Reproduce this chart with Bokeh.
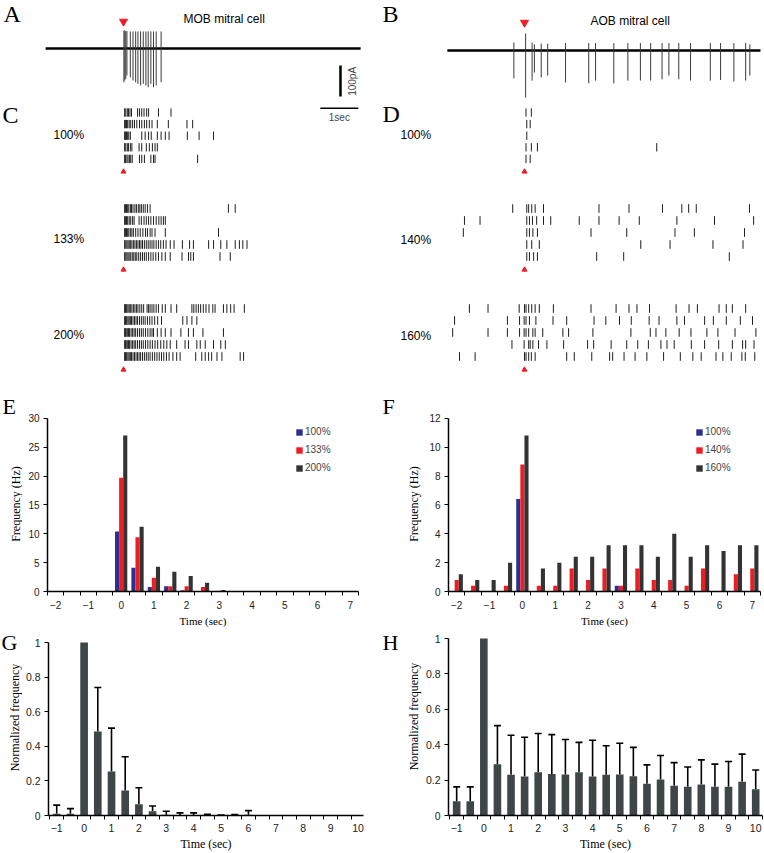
from bokeh.plotting import figure
from bokeh.layouts import column, row
from bokeh.models import (Range1d, Label, FixedTicker, Legend, LegendItem,
                          ColumnDataSource, Whisker, TeeHead, NumeralTickFormatter)
from bokeh.transform import dodge
from bokeh.embed import file_html
from bokeh.resources import INLINE

SERIF = "Liberation Serif"
SANS = "Liberation Sans"

# ---------------- A : MOB example trace (time in s, current in pA) ----------------
trace_a_span = [-2.05, 6.24]
spike_a_t = [0.01, 0.035, 0.06, 0.09, 0.18, 0.25, 0.32, 0.38, 0.45, 0.52, 0.59, 0.65, 0.72, 0.79, 0.86, 0.99]
spike_a_peak = [58, 58, 56, 56, 55, 55, 55, 55, 55, 55, 55, 55, 55, 55, 55, 55]
spike_a_trough = [-109, -103, -98, -87, -93, -103, -109, -114, -119, -114, -119, -125, -114, -125, -119, -109]

# ---------------- B : AOB example trace ----------------
trace_b_span = [-2.03, 6.21]
spike_b_t = [-0.28, 0.03, 0.20, 0.26, 0.44, 0.61, 1.08, 1.69, 1.87, 2.35, 2.72, 3.05, 3.32,
             3.62, 3.80, 4.06, 4.37, 4.89, 5.16, 5.51, 5.82, 5.93]
spike_b_peak = [26, 55, 26, 20, 22, 22, 24, 24, 24, 24, 24, 24, 24, 24, 24, 24, 24, 24, 24, 24, 24, 20]
spike_b_trough = [-90, -152, -97, -71, -87, -81, -103, -106, -97, -106, -97, -97, -97,
                  -93, -81, -93, -97, -97, -95, -100, -97, -81]

# ---------------- C : MOB rasters (spike times, s) ----------------
c_100 = [
    [0.03, 0.06, 0.10, 0.13, 0.17, 0.21, 0.37, 0.42, 0.48, 0.54, 0.61, 0.66, 0.92, 1.25],
    [0.03, 0.05, 0.08, 0.11, 0.15, 0.19, 0.24, 0.29, 0.35, 0.42, 0.48, 0.55, 0.61, 0.68, 0.75, 0.89, 1.18, 1.67, 1.82],
    [0.03, 0.05, 0.08, 0.11, 0.14, 0.18, 0.48, 0.57, 0.66, 0.73, 0.89, 0.99, 1.10, 1.20, 1.68, 1.99, 2.37],
    [0.03, 0.06, 0.10, 0.13, 0.18, 0.22, 0.41, 0.48, 0.60, 0.68, 0.76, 0.83, 0.89],
    [0.03, 0.05, 0.09, 0.12, 0.16, 0.19, 0.23, 0.42, 0.48, 0.55, 0.72, 0.79, 0.83, 1.95],
]
c_133 = [
    [0.03, 0.05, 0.08, 0.11, 0.14, 0.18, 0.21, 0.25, 0.30, 0.34, 0.39, 0.43, 0.47, 0.52, 0.57, 0.63, 0.70, 2.76, 2.94],
    [0.03, 0.05, 0.08, 0.11, 0.15, 0.19, 0.24, 0.28, 0.41, 0.47, 0.54, 0.60, 0.66, 0.72, 0.79, 0.86, 0.93, 0.99, 1.05, 1.10],
    [0.03, 0.05, 0.08, 0.11, 0.14, 0.18, 0.22, 0.26, 0.32, 0.38, 0.44, 0.51, 0.58, 0.63, 0.70, 0.75, 0.83, 1.10, 2.50],
    [0.03, 0.06, 0.09, 0.12, 0.15, 0.18, 0.22, 0.26, 0.30, 0.34, 0.38, 0.42, 0.46, 0.50, 0.55, 0.60, 0.65, 0.70,
     0.75, 0.80, 0.86, 0.92, 0.98, 1.05, 1.12, 1.23, 1.33, 1.55, 1.74, 1.84, 2.24, 2.37, 2.56, 2.72, 2.94, 3.05, 3.14, 3.25],
    [0.03, 0.06, 0.09, 0.12, 0.15, 0.19, 0.23, 0.27, 0.31, 0.35, 0.40, 0.45, 0.50, 0.55, 0.60, 0.66, 0.72, 0.78,
     0.85, 0.92, 1.01, 1.10, 1.23, 1.54, 1.71, 1.77, 1.84, 2.54, 2.81],
]
c_200 = [
    [0.03, 0.05, 0.07, 0.09, 0.12, 0.15, 0.18, 0.22, 0.26, 0.30, 0.34, 0.38, 0.43, 0.48, 0.53, 0.62, 0.66, 0.70,
     0.75, 0.80, 0.86, 0.92, 1.02, 1.10, 1.25, 1.40, 1.80, 1.85, 1.91, 1.97, 2.03, 2.10, 2.17, 2.25, 2.35, 2.41,
     2.63, 2.72, 2.82, 2.91, 3.18],
    [0.03, 0.05, 0.07, 0.09, 0.12, 0.15, 0.18, 0.21, 0.25, 0.29, 0.33, 0.37, 0.42, 0.47, 0.52, 0.57, 0.63, 0.69,
     0.75, 0.82, 0.90, 1.00, 1.56, 1.67, 1.80, 1.93],
    [0.03, 0.05, 0.07, 0.10, 0.13, 0.16, 0.20, 0.24, 0.28, 0.32, 0.37, 0.42, 0.47, 0.52, 0.58, 0.64, 0.70, 0.75,
     0.79, 0.89, 0.99, 1.10, 1.25, 1.51, 1.71, 1.84, 2.09, 2.63],
    [0.03, 0.05, 0.07, 0.10, 0.13, 0.16, 0.20, 0.24, 0.28, 0.32, 0.37, 0.42, 0.47, 0.52, 0.58, 0.64, 0.70, 0.76,
     0.83, 0.90, 0.98, 1.06, 1.14, 1.23, 1.40, 1.62, 1.71, 1.93, 2.02, 2.15, 2.37, 2.56, 2.68],
    [0.03, 0.05, 0.07, 0.09, 0.12, 0.15, 0.18, 0.21, 0.25, 0.29, 0.33, 0.37, 0.41, 0.45, 0.50, 0.55, 0.60, 0.65,
     0.70, 0.76, 0.82, 0.88, 0.94, 1.00, 1.06, 1.13, 1.20, 1.30, 1.40, 1.49, 1.90, 2.06, 2.15, 2.24, 2.32, 2.46,
     2.59, 3.07, 3.16],
]
# ---------------- D : AOB rasters ----------------
d_100 = [
    [0.04, 0.18],
    [0.06, 0.15],
    [0.06],
    [0.04, 0.18, 0.34, 3.48],
    [0.04, 0.15],
]
d_140 = [
    [-0.31, 0.06, 0.11, 0.19, 0.28, 0.50, 1.96, 2.75, 3.63, 4.14, 4.32, 4.52, 5.92],
    [-1.58, -1.17, 0.06, 0.13, 0.21, 0.32, 0.50, 0.69, 1.44, 1.96, 2.49, 3.02, 4.01, 5.00, 6.03],
    [-1.61, 0.06, 0.13, 0.22, 0.34, 1.75, 2.69, 3.96, 4.47, 5.79],
    [0.06, 0.19, 0.39, 3.06, 3.83, 4.96, 5.75],
    [0.06, 0.13, 0.24, 0.34, 1.90, 2.61, 5.39],
]
d_160 = [
    [-1.45, -0.96, -0.14, 0.00, 0.04, 0.11, 0.19, 0.28, 0.39, 0.76, 1.75, 2.41, 2.75, 2.96, 3.29, 3.99, 4.33,
     4.55, 5.12, 5.31, 5.47, 5.82],
    [-1.84, -0.45, -0.13, -0.01, 0.04, 0.13, 0.30, 0.75, 1.11, 1.83, 2.14, 2.50, 2.81, 3.28, 3.54, 4.01, 4.21,
     4.74, 4.97, 5.31, 5.68, 6.00],
    [-1.89, -0.96, -0.45, -0.13, -0.01, 0.04, 0.11, 0.22, 0.28, 0.48, 1.01, 1.16, 1.80, 2.80, 3.31, 3.46, 3.72,
     4.07, 4.38, 4.80, 5.09, 5.54, 6.09],
    [-0.33, -0.01, 0.11, 0.15, 0.22, 0.37, 0.59, 1.03, 1.66, 1.82, 2.28, 2.69, 2.98, 3.26, 3.59, 3.75, 3.94,
     4.39, 4.74, 5.11, 5.47, 5.74, 5.82, 6.04],
    [-1.71, -1.30, 0.00, 0.04, 0.11, 0.18, 0.28, 1.11, 1.31, 1.77, 2.24, 2.32, 2.62, 2.91, 3.22, 3.66, 4.10,
     4.43, 4.65, 5.04, 5.22, 5.44, 5.72, 5.81, 6.06],
]
mob_levels = ["100%", "133%", "200%"]
aob_levels = ["100%", "140%", "160%"]

# ---------------- E / F : PSTH (Hz), 0.5 s bins ----------------
psth_bins = [-2, -1.5, -1, -0.5, 0, 0.5, 1, 1.5, 2, 2.5, 3, 3.5, 4, 4.5, 5, 5.5, 6, 6.5, 7]
e_100 = [0, 0, 0, 0, 10.4, 4.1, 0.8, 0.9, 0.2, 0, 0, 0, 0, 0, 0, 0, 0, 0, 0]
e_133 = [0, 0, 0, 0, 19.7, 9.4, 2.4, 0.9, 0.9, 0.8, 0.15, 0, 0, 0, 0, 0, 0, 0, 0]
e_200 = [0, 0, 0, 0, 27.0, 11.2, 4.3, 3.4, 2.7, 1.5, 0.25, 0, 0, 0, 0, 0, 0, 0, 0]
f_100 = [0, 0, 0, 0, 6.4, 0, 0, 0, 0, 0, 0.4, 0, 0, 0, 0, 0, 0, 0, 0]
f_140 = [0.8, 0.4, 0, 0.4, 8.8, 0.4, 0.4, 1.6, 0.8, 1.6, 0.4, 1.6, 0.8, 0.8, 0.4, 1.6, 0, 1.2, 1.6]
f_160 = [1.2, 0.8, 0.8, 2.0, 10.8, 1.6, 2.0, 2.4, 2.4, 3.2, 3.2, 3.2, 2.4, 4.0, 2.4, 3.2, 2.8, 3.2, 3.2]
psth_xticks = [-2, -1, 0, 1, 2, 3, 4, 5, 6, 7]
e_yticks = [0, 5, 10, 15, 20, 25, 30]
f_yticks = [0, 2, 4, 6, 8, 10, 12]

# ---------------- G / H : normalized frequency, mean + upper error ----------------
norm_bins = [-1, -0.5, 0, 0.5, 1, 1.5, 2, 2.5, 3, 3.5, 4, 4.5, 5, 5.5, 6, 6.5, 7, 7.5, 8, 8.5, 9, 9.5, 10]
g_mean = [0.01, 0.01, 1.0, 0.485, 0.255, 0.145, 0.065, 0.025, 0.005, 0.003, 0.003, 0.003, 0.001, 0.003,
          0.005, 0, 0, 0, 0, 0, 0, 0, 0]
g_upper = [0.06, 0.04, None, 0.74, 0.505, 0.34, 0.16, 0.055, 0.025, 0.015, 0.015, 0.007, 0.002, 0.006,
           0.028, None, None, None, None, None, None, None, None]
h_mean = [0.08, 0.08, 1.0, 0.29, 0.23, 0.22, 0.245, 0.235, 0.232, 0.245, 0.22, 0.23, 0.232, 0.222,
          0.18, 0.203, 0.168, 0.163, 0.175, 0.163, 0.163, 0.19, 0.148]
h_upper = [0.162, 0.162, None, 0.508, 0.453, 0.442, 0.463, 0.457, 0.429, 0.413, 0.425, 0.394, 0.408, 0.385,
           0.286, 0.339, 0.299, 0.274, 0.314, 0.29, 0.305, 0.347, 0.257]
norm_xticks = [-1, 0, 1, 2, 3, 4, 5, 6, 7, 8, 9, 10]
norm_yticks = [0, 0.2, 0.4, 0.6, 0.8, 1.0]

BLUE = "#2b2f8f"
RED = "#ee1d23"
DARK = "#333333"
BAR = "#3e4648"

# ---------------- layout constants ----------------
COL_W = 382
TOP_H = 395
PX_PER_S = 38.0
PX_PER_PA = 0.31
ROW_P0 = [112, 208, 308]
ROW_S = [11.6, 12.0, 12.0]
ROW2_H, ROW2_BOT = 234, 36      # E/F row: frame runs from row top to 36 px above row bottom
ROW3_H, ROW3_BOT = 224, 38      # G/H row
LETTER = "22px"


def bare(w, h):
    p = figure(width=w, height=h, output_backend="svg", toolbar_location=None,
               x_axis_location=None, y_axis_location=None, min_border=0,
               outline_line_color=None)
    p.xgrid.visible = False
    p.ygrid.visible = False
    return p


def top_panel(zero_px, base_px):
    p = bare(COL_W, TOP_H)
    p.x_range = Range1d(-zero_px / PX_PER_S, (COL_W - zero_px) / PX_PER_S)
    p.y_range = Range1d(-(TOP_H - base_px) / PX_PER_PA, base_px / PX_PER_PA)
    p.extra_y_ranges = {f"r{i}": Range1d(1 + (TOP_H - p0) / s, 1 - p0 / s)
                        for i, (p0, s) in enumerate(zip(ROW_P0, ROW_S))}
    return p


def slabel(p, fh, text, x, y_top, size, font=SANS, align="left", angle=0):
    p.add_layout(Label(x=x, y=fh - y_top, x_units="screen", y_units="screen", text=text,
                       text_font=font, text_font_size=size, text_align=align,
                       text_baseline="middle", text_color="black",
                       angle=angle, angle_units="deg"))


def draw_trace(p, span, ts, peaks, troughs):
    p.line(x=span, y=[0, 0], line_color="black", line_width=2.6)
    p.segment(x0=ts, y0=troughs, x1=ts, y1=peaks, line_color="#3a3a3a", line_width=1)


def draw_rasters(p, groups):
    for gi, trials in enumerate(groups):
        xs, y0, y1 = [], [], []
        for k, spikes in enumerate(trials):
            for t in spikes:
                xs.append(t)
                y0.append(k + 1 - 0.36)
                y1.append(k + 1 + 0.36)
        p.segment(x0=xs, y0=y0, x1=xs, y1=y1, line_color="#1e1e1e", line_width=1,
                  y_range_name=f"r{gi}")
        p.scatter(x=[0], y=[6.1], marker="triangle", size=5, color=RED, y_range_name=f"r{gi}")


# ---- A + C ----
pa = top_panel(123, 48)
draw_trace(pa, trace_a_span, spike_a_t, spike_a_peak, spike_a_trough)
pa.scatter(x=[0], y=[87], marker="inverted_triangle", size=8, color=RED)
draw_rasters(pa, [c_100, c_133, c_200])
# scale bars (100 pA, 1 s)
pa.segment(x0=[5.71], y0=[-55], x1=[5.71], y1=[-155], line_color="black", line_width=2.5)
pa.segment(x0=[5.18], y0=[-193], x1=[6.18], y1=[-193], line_color="black", line_width=1.5)
pa.add_layout(Label(x=6.03, y=-106, text="100pA", angle=90, angle_units="deg",
                    text_font=SANS, text_font_size="10px", text_align="center",
                    text_baseline="middle"))
pa.add_layout(Label(x=5.68, y=-222, text="1sec", text_font=SANS, text_font_size="10px",
                    text_align="center", text_baseline="middle"))
slabel(pa, TOP_H, "A", 3, 13, "24px", SERIF)
slabel(pa, TOP_H, "C", 2, 114, "24px", SERIF)
slabel(pa, TOP_H, "MOB mitral cell", 183, 18, "12px")
for lv, yy in zip(mob_levels, [134, 238, 334]):
    slabel(pa, TOP_H, lv, 53, yy, "12px")

# ---- B + D ----
pb = top_panel(142, 50)
draw_trace(pb, trace_b_span, spike_b_t, spike_b_peak, spike_b_trough)
pb.scatter(x=[0], y=[90], marker="inverted_triangle", size=8, color=RED)
draw_rasters(pb, [d_100, d_140, d_160])
slabel(pb, TOP_H, "B", 0, 13, "24px", SERIF)
slabel(pb, TOP_H, "D", 0, 113, "24px", SERIF)
slabel(pb, TOP_H, "AOB mitral cell", 208, 20, "12px")
for lv, yy in zip(aob_levels, [134, 239, 335]):
    slabel(pb, TOP_H, lv, 18, yy, "12px")


# ---------------- bottom charts ----------------
def strip(w, h, bot, letter, lx, ly, ylabel, yx, yy, ysize):
    s = bare(w, h)
    s.min_border_bottom = bot
    s.x_range = Range1d(0, 1)
    s.y_range = Range1d(0, 1)
    fh = h - bot
    slabel(s, fh, letter, lx, ly, LETTER, SERIF)
    slabel(s, fh, ylabel, yx, yy, ysize, SERIF, align="center", angle=90)
    return s


def chart(w, h, bl, fw, bot, xr, yr):
    p = figure(width=w, height=h, output_backend="svg", toolbar_location=None,
               x_range=Range1d(*xr), y_range=Range1d(*yr),
               min_border_left=bl, min_border_right=w - bl - fw,
               min_border_top=0, min_border_bottom=bot,
               outline_line_color=None)
    p.xgrid.visible = False
    p.ygrid.visible = False
    return p


def style(p, xticks, xminor, yticks, ybounds, tick_size, lab_size, xstand, lstand):
    xa, ya = p.xaxis[0], p.yaxis[0]
    xa.ticker = FixedTicker(ticks=xticks, minor_ticks=xminor)
    ya.ticker = FixedTicker(ticks=yticks, minor_ticks=[])
    ya.bounds = ybounds
    for a in (xa, ya):
        a.axis_line_color = "black"
        a.axis_line_width = 1.5
        a.major_tick_line_color = "black"
        a.minor_tick_line_color = "black"
        a.major_tick_in = 0
        a.minor_tick_in = 0
        a.major_label_text_font = SANS
        a.major_label_text_font_size = tick_size
        a.major_label_text_color = "#222222"
    xa.major_tick_out = 0
    xa.minor_tick_out = 4
    ya.major_tick_out = 4
    ya.minor_tick_out = 0
    xa.axis_label = "Time (sec)"
    xa.axis_label_text_font = SERIF
    xa.axis_label_text_font_style = "normal"
    xa.axis_label_text_font_size = lab_size
    xa.axis_label_text_color = "black"
    xa.major_label_standoff = xstand
    xa.axis_label_standoff = lstand
    ya.major_label_standoff = 4


psth_minor = [-2.25 + 0.5 * i for i in range(20)]
norm_minor = [-1.25 + 0.5 * i for i in range(24)]

PSTH_AXIS_PX = 175          # pixel height of the 0..max axis in E and F
PSTH_FRAME_PX = ROW2_H - ROW2_BOT


def psth(w, bl, fw, data, labels, ymax, yticks, legx):
    p = chart(w, ROW2_H, bl, fw, ROW2_BOT, (-2.25, 7.25), (0, ymax * PSTH_FRAME_PX / PSTH_AXIS_PX))
    src = ColumnDataSource(dict(x=psth_bins, a=data[0], b=data[1], c=data[2]))
    rs = []
    for col, off, colr in zip(["a", "b", "c"], [-0.125, 0.0, 0.125], [BLUE, RED, DARK]):
        rs.append(p.vbar(x=dodge("x", off, range=p.x_range), top=col, width=0.125,
                         source=src, fill_color=colr, line_color=None))
    style(p, psth_xticks, psth_minor, yticks, (0, ymax), "10px", "11px", 5, 3)
    leg = Legend(items=[LegendItem(label=lb, renderers=[r]) for lb, r in zip(labels, rs)],
                 location=(legx, 118), glyph_width=8, glyph_height=8, label_height=10,
                 label_width=20, spacing=7, padding=0, margin=0, label_standoff=2,
                 border_line_color=None, background_fill_alpha=0,
                 label_text_font=SANS, label_text_font_size="10px")
    p.add_layout(leg)
    return p


NORM_FRAME_PX = ROW3_H - ROW3_BOT


def normchart(w, bl, fw, axis_px, mean, upper, xr):
    p = chart(w, ROW3_H, bl, fw, ROW3_BOT, xr, (0, NORM_FRAME_PX / axis_px))
    p.vbar(x=norm_bins, top=mean, width=0.28, fill_color=BAR, line_color=None)
    xs = [b for b, u in zip(norm_bins, upper) if u is not None]
    lo = [m for m, u in zip(mean, upper) if u is not None]
    hi = [u for u in upper if u is not None]
    esrc = ColumnDataSource(dict(x=xs, lo=lo, hi=hi))
    p.add_layout(Whisker(source=esrc, base="x", lower="lo", upper="hi", dimension="height",
                         line_color="black", line_width=1.6,
                         upper_head=TeeHead(size=7, line_color="black", line_width=1.6),
                         lower_head=None))
    style(p, norm_xticks, norm_minor, norm_yticks, (0, 1), "10.5px", "12px", 4, 2)
    p.yaxis[0].formatter = NumeralTickFormatter(format="0.[0]")
    return p


SL, SR = 22, 40   # widths of the strips holding panel letters and y titles

se = strip(SL, ROW2_H, ROW2_BOT, "E", 2, 12.5, "Frequency (Hz)", 15, 110.5, "12px")
pe = psth(COL_W - SL, 25, 311, [e_100, e_133, e_200], mob_levels, 30, e_yticks, 248)
sf = strip(SR, ROW2_H, ROW2_BOT, "F", 0, 12.5, "Frequency (Hz)", 31, 110.5, "12px")
pf = psth(COL_W - SR, 26, 312, [f_100, f_140, f_160], aob_levels, 12, f_yticks, 247)

sg = strip(SL, ROW3_H, ROW3_BOT, "G", 1, 12.5, "Normalized frequency", 14, 88, "12px")
pg = normchart(COL_W - SL, 25, 316, 173, g_mean, g_upper, (-1.3, 10.2))
sh = strip(SR, ROW3_H, ROW3_BOT, "H", 0, 12.5, "Normalized frequency", 31, 87, "12px")
ph = normchart(COL_W - SR, 25, 315, 177, h_mean, h_upper, (-1.3, 10.25))

layout = column(row(pa, pb), row(se, pe, sf, pf), row(sg, pg, sh, ph))
open("out.html", "w").write(file_html(layout, INLINE))
